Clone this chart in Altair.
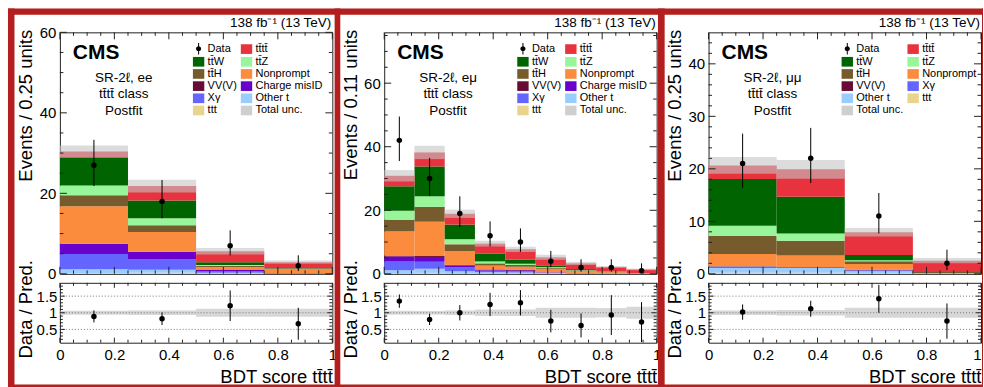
import altair as alt
import pandas as pd

FONT = "Liberation Sans"
BAR = "t\u0304"

TTTT = "t" + BAR + "t" + BAR
TTW = "t" + BAR + "W"
TTZ = "t" + BAR + "Z"
TTH = "t" + BAR + "H"
NONPROMPT = "Nonprompt"
VVV = "VV(V)"
CHARGE = "Charge misID"
XGAMMA = "X\u03b3"
OTHERT = "Other t"
TTT = "ttt"
DATA_LBL = "Data"
UNC_LBL = "Total unc."

# ---------------- tick / label values ----------------
X_MAJOR = [0, 0.2, 0.4, 0.6, 0.8, 1.0]
X_MINOR = [0.05, 0.1, 0.15, 0.25, 0.3, 0.35, 0.45, 0.5, 0.55, 0.65, 0.7, 0.75, 0.85, 0.9, 0.95]
R_MAJOR = [0.5, 1.0, 1.5]
R_MINOR = [0.2, 0.3, 0.4, 0.6, 0.7, 0.8, 0.9, 1.1, 1.2, 1.3, 1.4, 1.6, 1.7, 1.8]
R_LINES = [0.5, 1.0, 1.5]

# ---------------- SR-2l, ee ----------------
EE_EDGES = [0.0, 0.25, 0.5, 0.75, 1.0]
EE_TTTT = [1.6, 3.6, 2.7, 1.5]
EE_TTW = [6.85, 4.4, 0.7, 0.1]
EE_TTZ = [2.45, 1.7, 0.25, 0.05]
EE_TTH = [2.7, 1.7, 0.25, 0.05]
EE_NONPROMPT = [9.3, 4.9, 0.6, 1.0]
EE_VVV = [0.1, 0.1, 0.05, 0.02]
EE_CHARGE = [2.5, 1.85, 0.45, 0.05]
EE_XGAMMA = [3.75, 2.55, 0.35, 0.05]
EE_OTHERT = [0.95, 0.7, 0.2, 0.05]
EE_TTT = [0.2, 0.3, 0.05, 0.02]
EE_UNC = [1.5, 1.6, 0.8, 0.4]
EE_DATA = [27, 18, 7, 2]
EE_DATA_LO = [21.8, 13.8, 4.6, 0.7]
EE_DATA_HI = [33.3, 23.3, 10.8, 4.6]
EE_RATIO = [0.89, 0.82, 1.21, 0.67]
EE_RATIO_ERR = [0.18, 0.19, 0.46, 0.48]
EE_RATIO_UNC = [0.06, 0.07, 0.12, 0.12]
EE_Y_MAJOR = [0, 20, 40, 60]
EE_Y_MINOR = [5, 10, 15, 25, 30, 35, 45, 50, 55]

# ---------------- SR-2l, e mu ----------------
EM_EDGES = [0.0, 0.111, 0.222, 0.333, 0.444, 0.556, 0.667, 0.778, 0.889, 1.0]
EM_TTTT = [3.3, 4.4, 3.4, 3.2, 3.3, 2.7, 1.8, 1.4, 1.15]
EM_TTW = [7.7, 9.4, 4.6, 2.4, 1.2, 0.4, 0.3, 0.1, 0.03]
EM_TTZ = [2.8, 3.3, 1.6, 0.6, 0.4, 0.2, 0.1, 0.05, 0.02]
EM_TTH = [3.7, 4.7, 2.2, 0.7, 0.6, 0.3, 0.2, 0.1, 0.03]
EM_NONPROMPT = [7.6, 10.8, 4.3, 1.2, 1.0, 1.1, 0.6, 0.35, 0.1]
EM_VVV = [0.3, 0.3, 0.2, 0.1, 0.05, 0.02, 0.02, 0.01, 0.01]
EM_CHARGE = [1.6, 1.5, 0.6, 0.3, 0.3, 0.1, 0.05, 0.03, 0.01]
EM_XGAMMA = [2.7, 2.2, 1.2, 0.5, 0.45, 0.15, 0.1, 0.05, 0.02]
EM_OTHERT = [1.05, 1.3, 0.7, 0.45, 0.35, 0.2, 0.1, 0.05, 0.02]
EM_TTT = [0.1, 0.3, 0.1, 0.05, 0.05, 0.03, 0.02, 0.02, 0.01]
EM_UNC = [1.8, 2.1, 1.3, 0.9, 0.8, 0.8, 0.5, 0.3, 0.25]
EM_DATA = [42, 30, 19, 12, 10, 4, 2, 2, 1]
EM_DATA_LO = [35.5, 24.5, 14.7, 8.6, 6.9, 2.1, 0.7, 0.7, 0.2]
EM_DATA_HI = [49.5, 36.5, 24.4, 16.5, 14.3, 7.2, 4.6, 4.6, 3.3]
EM_RATIO = [1.35, 0.80, 1.00, 1.25, 1.30, 0.75, 0.62, 0.93, 0.72]
EM_RATIO_ERR = [0.2, 0.17, 0.23, 0.35, 0.38, 0.34, 0.36, 0.6, 0.6]
EM_RATIO_UNC = [0.06, 0.055, 0.07, 0.095, 0.1, 0.15, 0.15, 0.14, 0.18]
EM_Y_MAJOR = [0, 20, 40, 60]
EM_Y_MINOR = [5, 10, 15, 25, 30, 35, 45, 50, 55, 65, 70, 75]

# ---------------- SR-2l, mu mu ----------------
MM_EDGES = [0.0, 0.25, 0.5, 0.75, 1.0]
MM_TTTT = [2.6, 5.2, 4.3, 1.95]
MM_TTW = [8.9, 7.0, 1.0, 0.15]
MM_TTZ = [1.95, 1.4, 0.2, 0.04]
MM_TTH = [3.4, 2.8, 0.55, 0.2]
MM_NONPROMPT = [2.35, 2.2, 1.1, 0.05]
MM_VVV = [0.05, 0.05, 0.06, 0.02]
MM_XGAMMA = [0.3, 0.15, 0.2, 0.02]
MM_OTHERT = [0.9, 0.9, 0.4, 0.05]
MM_TTT = [0.2, 0.2, 0.1, 0.02]
MM_UNC = [1.6, 1.8, 0.8, 0.5]
MM_DATA = [21, 22, 11, 2]
MM_DATA_LO = [16.4, 17.3, 7.7, 0.7]
MM_DATA_HI = [26.7, 27.8, 15.4, 4.6]
MM_RATIO = [1.02, 1.12, 1.42, 0.75]
MM_RATIO_ERR = [0.23, 0.24, 0.42, 0.53]
MM_RATIO_UNC = [0.07, 0.08, 0.15, 0.15]
MM_Y_MAJOR = [0, 10, 20, 30, 40]
MM_Y_MINOR = [2, 4, 6, 8, 12, 14, 16, 18, 22, 24, 26, 28, 32, 34, 36, 38, 42, 44]

# legend entries in reading order (two per row)
LEG_FULL = [DATA_LBL, TTTT, TTW, TTZ, TTH, NONPROMPT, VVV, CHARGE, XGAMMA, OTHERT, TTT, UNC_LBL]
LEG_MM = [DATA_LBL, TTTT, TTW, TTZ, TTH, NONPROMPT, VVV, XGAMMA, OTHERT, TTT, UNC_LBL]

# ---------------- styles ----------------
STYLE = {
    DATA_LBL: "#000000", TTTT: "#e8323d", TTW: "#006400", TTZ: "#99f59a",
    TTH: "#765b2c", NONPROMPT: "#fb8b3d", VVV: "#680c36", CHARGE: "#6a00cc",
    XGAMMA: "#6464ff", OTHERT: "#99ccff", TTT: "#e9d48e", UNC_LBL: "#cfcfcf",
}
SWATCH = "M-1,-0.85H1V0.85H-1Z"
DATA_SYMBOL = ("M-0.09,-1H0.09V1H-0.09Z "
               "M0.45,0A0.45,0.45,0,1,1,-0.45,0A0.45,0.45,0,1,1,0.45,0Z")
STACK = [TTT, OTHERT, XGAMMA, CHARGE, VVV, NONPROMPT, TTH, TTZ, TTW, TTTT]
FRAME_C = "#222222"
RED = "#b41e1e"

W, HT, HR, VGAP, HGAP = 273, 242, 60, 9, 52
ORIGIN_X, ORIGIN_Y = 59, 31
# decorative red frames (window pixel coordinates: x1, x2, y1, y2)
FRAME_BANDS = [(7, 984, 7, 13.5), (7, 984, 384, 387), (7, 13.5, 7, 387),
               (334.3, 340, 7, 387), (658.3, 665, 7, 387), (983, 984, 7, 387)]


def column_major(entries):
    """Vega fills legend columns top-to-bottom; reorder so entries read row by row."""
    return entries[0::2] + entries[1::2]


def make_panel(cfg, last):
    edges = cfg["edges"]
    nb = len(edges) - 1
    lefts, rights = edges[:-1], edges[1:]
    centers = [(a + b) / 2 for a, b in zip(lefts, rights)]

    xs = alt.Scale(domain=[0, 1], nice=False, zero=False)
    ys = alt.Scale(domain=[0, cfg["ymax"]], nice=False, zero=False)
    rs = alt.Scale(domain=[0.1, 1.9], nice=False, zero=False)

    ax_top_x = alt.Axis(labels=False, ticks=False, tickSize=0, domain=False, grid=False, title=None)
    ax_top_y = alt.Axis(values=cfg["ymaj"], format="d", ticks=False, tickSize=0, domain=False,
                        grid=False, labelFontSize=15, labelPadding=4, labelOverlap=False,
                        title=cfg["ytitle"], titleFontSize=18.5, titleFontWeight="normal",
                        titleAngle=270, titleAlign="right", titleBaseline="alphabetic",
                        titleX=-28, titleY=-3)
    if last:
        lab_align = {"condition": {"test": "datum.value >= 1", "value": "right"}, "value": "center"}
    else:
        lab_align = "center"
    ax_r_x = alt.Axis(values=X_MAJOR, format="~g", ticks=False, tickSize=0, domain=False, grid=False,
                      labelFontSize=15, labelPadding=5, labelFlush=False, labelAlign=lab_align,
                      labelOverlap=False, title="BDT score " + TTTT, titleFontSize=18.5,
                      titleFontWeight="normal", titleAlign="right", titleBaseline="alphabetic",
                      titleX=W, titleY=40)
    ax_r_y = alt.Axis(values=R_MAJOR, format="~g", ticks=False, tickSize=0, domain=False, grid=False,
                      labelFontSize=15, labelPadding=3, labelOverlap=False, title="Data / Pred.",
                      titleFontSize=18.5, titleFontWeight="normal", titleAngle=270,
                      titleAlign="center", titleBaseline="alphabetic", titleX=-28, titleY=26)

    def X(f):
        return alt.X(f, type="quantitative", scale=xs, axis=ax_top_x)

    def Y(f):
        return alt.Y(f, type="quantitative", scale=ys, axis=ax_top_y)

    def XR(f):
        return alt.X(f, type="quantitative", scale=xs, axis=ax_r_x)

    def YR(f):
        return alt.Y(f, type="quantitative", scale=rs, axis=ax_r_y)

    def ticks(xf, yf, ymaj, ymin, h, lx, ly):
        out = []
        for vals, L in ((X_MAJOR, lx[0]), (X_MINOR, lx[1])):
            src = alt.Chart(pd.DataFrame({"v": vals})).mark_rule(color=FRAME_C, strokeWidth=1)
            out.append(src.encode(x=xf("v"), y=alt.value(h), y2=alt.value(h - L)))
            out.append(src.encode(x=xf("v"), y=alt.value(0), y2=alt.value(L)))
        for vals, L in ((ymaj, ly[0]), (ymin, ly[1])):
            src = alt.Chart(pd.DataFrame({"v": vals})).mark_rule(color=FRAME_C, strokeWidth=1)
            out.append(src.encode(y=yf("v"), x=alt.value(0), x2=alt.value(L)))
            out.append(src.encode(y=yf("v"), x=alt.value(W), x2=alt.value(W - L)))
        return out

    # stacked backgrounds
    comps = cfg["comps"]
    rows = []
    base = [0.0] * nb
    for p in STACK:
        if p not in comps:
            continue
        for i, v in enumerate(comps[p]):
            rows.append({"proc": p, "x0": lefts[i], "x1": rights[i], "y0": base[i], "y1": base[i] + v})
            base[i] += v
    bars_df = pd.DataFrame(rows)

    order = column_major(cfg["legend"])
    leg = alt.Legend(orient="none", legendX=133, legendY=10.3, columns=2, columnPadding=3,
                     rowPadding=1.2, labelFont=FONT, labelFontSize=11, labelColor="black",
                     labelOffset=3, symbolSize=130, symbolStrokeWidth=0, title=None, padding=0,
                     gridAlign="each")
    cscale = alt.Scale(domain=order, range=[STYLE[k] for k in order])
    sscale = alt.Scale(domain=order, range=[DATA_SYMBOL if k == DATA_LBL else SWATCH for k in order])

    bars = alt.Chart(bars_df).mark_rect(opacity=1, strokeWidth=0).encode(
        x=X("x0"), x2="x1", y=Y("y0"), y2="y1",
        color=alt.Color("proc:N", scale=cscale, legend=leg))
    legend_layer = alt.Chart(bars_df).transform_filter("false").mark_point(
        filled=True, opacity=1).encode(
        x=X("x0"), y=Y("y1"),
        color=alt.Color("proc:N", scale=cscale, legend=leg),
        shape=alt.Shape("proc:N", scale=sscale, legend=leg))

    unc_df = pd.DataFrame({"x0": lefts, "x1": rights,
                           "lo": [t - u for t, u in zip(base, cfg["unc"])],
                           "hi": [t + u for t, u in zip(base, cfg["unc"])]})
    unc_layer = alt.Chart(unc_df).mark_rect(fill="#c4c4c4", opacity=0.6).encode(
        x=X("x0"), x2="x1", y=Y("lo"), y2="hi")

    data_df = pd.DataFrame({"xc": centers, "n": cfg["data"], "lo": cfg["dlo"], "hi": cfg["dhi"]})
    err = alt.Chart(data_df).mark_rule(color="black", strokeWidth=1).encode(
        x=X("xc"), y=Y("lo"), y2="hi")
    pts = alt.Chart(data_df).mark_circle(size=30, color="black", opacity=1).encode(
        x=X("xc"), y=Y("n"))

    cms = alt.Chart(pd.DataFrame({"t": ["CMS"]})).mark_text(
        font=FONT, fontSize=21, fontWeight="bold", align="left", baseline="alphabetic",
        color="black").encode(x=alt.value(13), y=alt.value(27), text="t:N")
    region = alt.Chart(pd.DataFrame({"t": [cfg["region"] + "\n" + TTTT + " class\nPostfit"]})).mark_text(
        font=FONT, fontSize=13.5, align="center", baseline="alphabetic", lineBreak="\n",
        lineHeight=16.3, color="black").encode(x=alt.value(64), y=alt.value(50), text="t:N")
    lumi = alt.Chart(pd.DataFrame({"t": ["138 fb\u207b\u00b9 (13 TeV)"]})).mark_text(
        font=FONT, fontSize=13.5, align="right", baseline="alphabetic", color="black").encode(
        x=alt.value(W - 1), y=alt.value(-5), text="t:N")

    top = alt.layer(
        bars, unc_layer, legend_layer, err, pts,
        *ticks(X, Y, cfg["ymaj"], cfg["ymin"], HT, (7, 3.5), (7, 3.5)),
        cms, region, lumi,
    ).properties(width=W, height=HT)

    # ratio panel
    rband_df = pd.DataFrame({"x0": lefts, "x1": rights,
                             "lo": [1 - u for u in cfg["runc"]], "hi": [1 + u for u in cfg["runc"]]})
    rband = alt.Chart(rband_df).mark_rect(fill="#bdbdbd", opacity=0.6).encode(
        x=XR("x0"), x2="x1", y=YR("lo"), y2="hi")
    rlines = alt.Chart(pd.DataFrame({"v": R_LINES})).mark_rule(
        color="#777777", strokeWidth=1, strokeDash=[1, 2]).encode(
        y=YR("v"), x=alt.value(0), x2=alt.value(W))
    rdf = pd.DataFrame({"xc": centers, "r": cfg["ratio"],
                        "lo": [r - e for r, e in zip(cfg["ratio"], cfg["rerr"])],
                        "hi": [r + e for r, e in zip(cfg["ratio"], cfg["rerr"])]})
    rerr = alt.Chart(rdf).mark_rule(color="black", strokeWidth=1, clip=True).encode(
        x=XR("xc"), y=YR("lo"), y2="hi")
    rpts = alt.Chart(rdf).mark_circle(size=30, color="black", opacity=1).encode(
        x=XR("xc"), y=YR("r"))

    rlayers = [rband, rlines, rerr, rpts] + ticks(XR, YR, R_MAJOR, R_MINOR, HR, (5, 3), (5, 3))
    if last:
        ox = ORIGIN_X + 2 * (W + HGAP)
        oy = ORIGIN_Y + HT + VGAP
        for (a, b, c, d) in FRAME_BANDS:
            rlayers.append(alt.Chart(pd.DataFrame({"k": [0]})).mark_rect(color=RED, opacity=1).encode(
                x=alt.value(a - ox), x2=alt.value(b - ox), y=alt.value(c - oy), y2=alt.value(d - oy)))
    ratio = alt.layer(*rlayers).properties(width=W, height=HR)
    return top, ratio


panels_cfg = [
    dict(region="SR-2\u2113, ee", ytitle="Events / 0.25 units", edges=EE_EDGES,
         comps={TTTT: EE_TTTT, TTW: EE_TTW, TTZ: EE_TTZ, TTH: EE_TTH, NONPROMPT: EE_NONPROMPT,
                VVV: EE_VVV, CHARGE: EE_CHARGE, XGAMMA: EE_XGAMMA, OTHERT: EE_OTHERT, TTT: EE_TTT},
         unc=EE_UNC, data=EE_DATA, dlo=EE_DATA_LO, dhi=EE_DATA_HI, ratio=EE_RATIO,
         rerr=EE_RATIO_ERR, runc=EE_RATIO_UNC, ymax=60, ymaj=EE_Y_MAJOR, ymin=EE_Y_MINOR,
         legend=LEG_FULL),
    dict(region="SR-2\u2113, e\u03bc", ytitle="Events / 0.11 units", edges=EM_EDGES,
         comps={TTTT: EM_TTTT, TTW: EM_TTW, TTZ: EM_TTZ, TTH: EM_TTH, NONPROMPT: EM_NONPROMPT,
                VVV: EM_VVV, CHARGE: EM_CHARGE, XGAMMA: EM_XGAMMA, OTHERT: EM_OTHERT, TTT: EM_TTT},
         unc=EM_UNC, data=EM_DATA, dlo=EM_DATA_LO, dhi=EM_DATA_HI, ratio=EM_RATIO,
         rerr=EM_RATIO_ERR, runc=EM_RATIO_UNC, ymax=76, ymaj=EM_Y_MAJOR, ymin=EM_Y_MINOR,
         legend=LEG_FULL),
    dict(region="SR-2\u2113, \u03bc\u03bc", ytitle="Events / 0.25 units", edges=MM_EDGES,
         comps={TTTT: MM_TTTT, TTW: MM_TTW, TTZ: MM_TTZ, TTH: MM_TTH, NONPROMPT: MM_NONPROMPT,
                VVV: MM_VVV, XGAMMA: MM_XGAMMA, OTHERT: MM_OTHERT, TTT: MM_TTT},
         unc=MM_UNC, data=MM_DATA, dlo=MM_DATA_LO, dhi=MM_DATA_HI, ratio=MM_RATIO,
         rerr=MM_RATIO_ERR, runc=MM_RATIO_UNC, ymax=46, ymaj=MM_Y_MAJOR, ymin=MM_Y_MINOR,
         legend=LEG_MM),
]

pairs = [make_panel(c, i == len(panels_cfg) - 1) for i, c in enumerate(panels_cfg)]
tops = [p[0] for p in pairs]
ratios = [p[1] for p in pairs]

chart = alt.concat(
    *tops, *ratios, columns=3, spacing={"row": VGAP, "column": HGAP}, bounds="flush"
).resolve_scale(
    color="independent", shape="independent"
).properties(
    padding={"left": 7, "top": 7, "right": 0, "bottom": 0},
    background="white",
).configure_view(
    stroke=FRAME_C, strokeWidth=1
).configure_axis(
    labelFont=FONT, titleFont=FONT, labelColor="#000000", titleColor="#000000"
).configure_legend(
    labelFont=FONT
)

chart.save("out.html", embed_options={"renderer": "svg", "actions": False})
